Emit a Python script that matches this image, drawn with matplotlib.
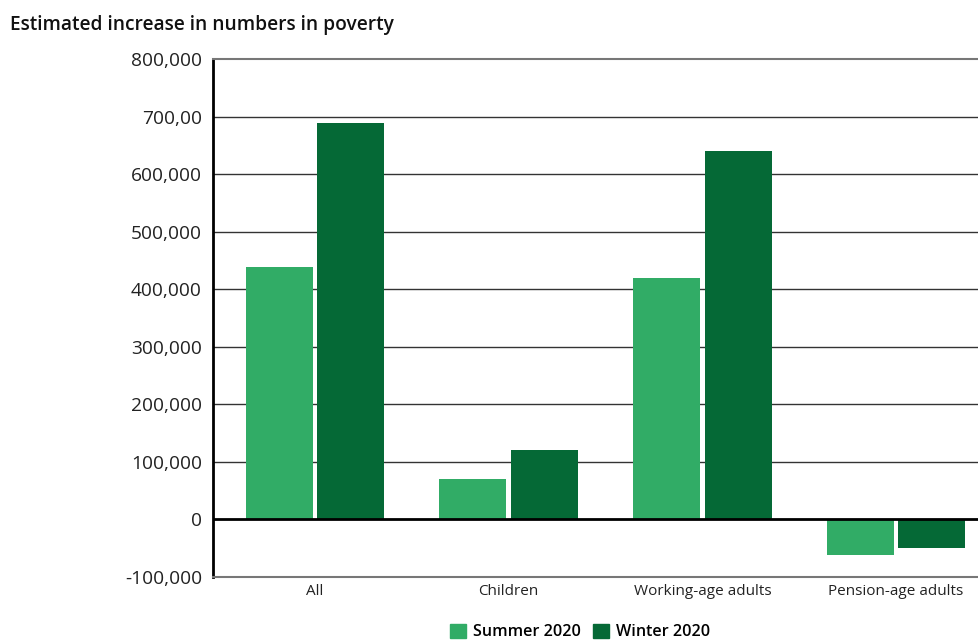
import matplotlib
matplotlib.use("Agg")
import matplotlib.pyplot as plt
import numpy as np
from matplotlib.patches import Patch

categories = ["All", "Children", "Working-age adults", "Pension-age adults"]
summer_2020 = [438000, 70000, 419000, -61000]
winter_2020 = [689000, 120000, 640000, -50000]
y_ticks = [-100000, 0, 100000, 200000, 300000, 400000, 500000, 600000, 700000, 800000]
y_tick_labels = ["-100,000", "0", "100,000", "200,000", "300,000", "400,000",
                 "500,000", "600,000", "700,00", "800,000"]
series_names = ["Summer 2020", "Winter 2020"]

light = "#31AC66"
dark = "#056936"
plt.rcParams['font.family'] = ['Open Sans', 'DejaVu Sans']

W, H = 979, 641
fig = plt.figure(figsize=(W / 100, H / 100), dpi=100)
ax = fig.add_axes([213 / W, (H - 577) / H, (979 - 213) / W, (577 - 59) / H])

x = np.arange(len(categories))
bw = 0.346
off = 0.185
ax.bar(x - off, summer_2020, width=bw, color=light, zorder=3)
ax.bar(x + off, winter_2020, width=bw, color=dark, zorder=3)

ax.set_xlim(-0.527, 3.428)
ax.set_ylim(-100000, 800000)
ax.set_yticks(y_ticks)
ax.set_yticklabels(y_tick_labels, fontsize=13.8, color="#222222")
ax.set_xticks(x)
ax.set_xticklabels(categories, fontsize=11, color="#222222")
ax.tick_params(axis="both", length=0, pad=5)
ax.tick_params(axis="y", pad=8)

for yv in y_ticks[2:-1]:
    ax.axhline(yv, color="#333333", lw=1.0, zorder=1)
ax.axhline(0, color="black", lw=2, zorder=4)

ax.spines["right"].set_visible(False)
ax.spines["top"].set_color("#777777")
ax.spines["top"].set_linewidth(1.5)
ax.spines["bottom"].set_color("#777777")
ax.spines["bottom"].set_linewidth(1.5)
ax.spines["left"].set_color("black")
ax.spines["left"].set_linewidth(2)

fig.text(10 / W, 1 - 25 / H, "Estimated increase in numbers in poverty",
         fontsize=13.8, fontweight="semibold", color="#111111", va="center", ha="left")

handles = [Patch(color=light, label=series_names[0]), Patch(color=dark, label=series_names[1])]
leg = fig.legend(handles=handles, loc="center", bbox_to_anchor=(580 / W, 1 - 632 / H),
                 ncol=2, frameon=False, fontsize=11.6, handlelength=1.0, handleheight=1.0,
                 handletextpad=0.4, columnspacing=0.8, borderaxespad=0)
for t in leg.get_texts():
    t.set_fontweight("semibold")

fig.savefig("out.png", dpi=100)
